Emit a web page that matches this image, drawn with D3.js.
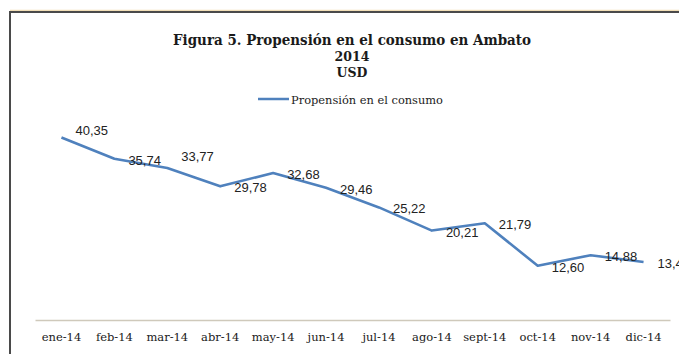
<!DOCTYPE html>
<html>
<head>
<meta charset="utf-8">
<script src="https://cdn.jsdelivr.net/npm/d3@7"></script>
<style>
  html, body { margin: 0; padding: 0; background: #ffffff; }
  svg { display: block; }
</style>
</head>
<body>
<svg id="chart" width="679" height="354"></svg>
<script>
// Monthly series for Ambato, 2014 (USD)
const months = ["ene-14", "feb-14", "mar-14", "abr-14", "may-14", "jun-14",
                "jul-14", "ago-14", "sept-14", "oct-14", "nov-14", "dic-14"];
const propension = [40.35, 35.74, 33.77, 29.78, 32.68, 29.46,
                    25.22, 20.21, 21.79, 12.60, 14.88, 13.42];
const titleLines = ["Figura 5. Propensión en el consumo en Ambato", "2014", "USD"];
const seriesName = "Propensión en el consumo";

// vertical nudges for the few value labels lifted clear of the line
const labelLift = [-8, 0, -13, 0, 0, 0, 0, 0, 0, 0, 0, 0];

const W = 679, H = 354;
const svg = d3.select("#chart");

// outer chart border (runs off the right and bottom edges)
svg.append("line").attr("x1", 10).attr("x2", W + 5).attr("y1", 10.5).attr("y2", 10.5)
  .attr("stroke", "#f2dfb8").attr("stroke-width", 1.5);
svg.append("rect")
  .attr("x", 10).attr("y", 12).attr("width", W + 20).attr("height", H + 20)
  .attr("fill", "none").attr("stroke", "#4a4a4a").attr("stroke-width", 2);

// title block
const titleG = svg.append("g").attr("font-family", "'DejaVu Serif', serif")
  .attr("font-weight", "bold").attr("fill", "#1a1a1a").attr("text-anchor", "middle");
titleG.append("text").attr("x", 352).attr("y", 45).attr("font-size", 14.5)
  .attr("textLength", 358).attr("lengthAdjust", "spacingAndGlyphs").text(titleLines[0]);
titleG.append("text").attr("x", 352).attr("y", 61).attr("font-size", 12.5).text(titleLines[1]);
titleG.append("text").attr("x", 352).attr("y", 77).attr("font-size", 12.5).text(titleLines[2]);

// scales
const x = d3.scaleBand().domain(months).range([35, 670]);
const y = d3.scaleLinear().domain([0, 45]).range([324, 116]);

const lineColor = "#4f81bd";

// legend
const legend = svg.append("g");
legend.append("line").attr("x1", 258).attr("x2", 289).attr("y1", 99).attr("y2", 99)
  .attr("stroke", lineColor).attr("stroke-width", 2.5);
legend.append("text").attr("x", 291).attr("y", 103.5)
  .attr("font-family", "'DejaVu Serif', serif").attr("font-size", 11.5)
  .attr("fill", "#222").attr("textLength", 152).attr("lengthAdjust", "spacingAndGlyphs")
  .text(seriesName);

// category axis
const xAxis = d3.axisBottom(x).tickSize(0).tickPadding(13);
const axisG = svg.append("g").attr("transform", "translate(0,320)").call(xAxis);
axisG.select(".domain").attr("stroke", "#cfc9bb").attr("stroke-width", 1.5);
axisG.selectAll(".tick text")
  .attr("font-family", "'DejaVu Serif', serif").attr("font-size", 11.5)
  .attr("fill", "#1a1a1a");

// series line
const line = d3.line()
  .x((d, i) => x(months[i]) + x.bandwidth() / 2)
  .y(d => y(d));
svg.append("path").datum(propension)
  .attr("d", line).attr("fill", "none")
  .attr("stroke", lineColor).attr("stroke-width", 2.6)
  .attr("stroke-linejoin", "round");

// value labels, to the right of each point
svg.append("g").selectAll("text").data(propension).join("text")
  .attr("x", (d, i) => x(months[i]) + x.bandwidth() / 2 + 14)
  .attr("y", (d, i) => y(d) + 6 + labelLift[i])
  .attr("font-family", "'Liberation Sans', Arial, sans-serif").attr("font-size", 13)
  .attr("fill", "#222")
  .text(d => d3.format(".2f")(d).replace(".", ","));
</script>
</body>
</html>
